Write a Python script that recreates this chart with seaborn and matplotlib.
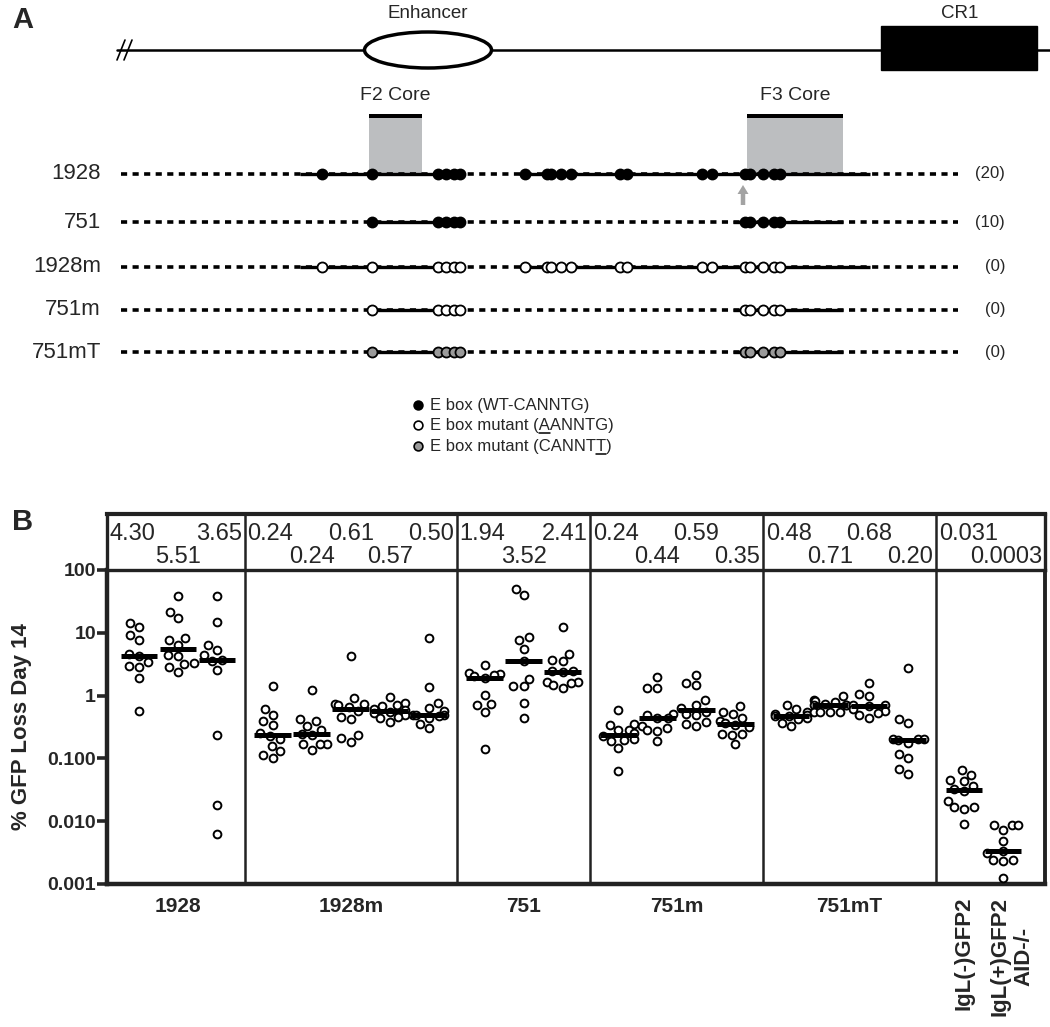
import matplotlib
matplotlib.use('Agg')
import matplotlib.pyplot as plt
import matplotlib.transforms as mtransforms
from matplotlib.patches import Ellipse, Rectangle, FancyArrow
from matplotlib.ticker import NullLocator
import seaborn as sns
import numpy as np
import pandas as pd

# ---------------- panel A: schematic ----------------
row_names = ['1928', '751', '1928m', '751m', '751mT']
row_counts = ['(20)', '(10)', '(0)', '(0)', '(0)']
# E box locations along the locus
ebox_1928 = [322, 372, 437.5, 446, 454, 459.5, 525, 547, 550.5, 560.5, 571,
             620, 627, 702, 712, 745, 750, 763, 774, 780]
ebox_751 = [372, 437.5, 446, 454, 459.5, 745, 750, 763, 774, 780]
# stretches of genomic sequence kept in each construct
solid_1928 = [(300, 462), (520, 870)]
solid_751 = [(368, 462), (733, 843)]
legend_labels = ['E box (WT-CANNTG)', 'E box mutant (AANNTG)', 'E box mutant (CANNTT)']

# ---------------- panel B: % GFP loss at day 14 ----------------
group_names = ['1928', '1928m', '751', '751m', '751mT']
group_sizes = [3, 5, 3, 4, 4, 2]
control_labels = ['IgL(-)GFP2', 'IgL(+)GFP2\nAID-/-']

c01 = [14.4, 12.2, 9.2, 7.8, 4.6, 4.30, 3.4, 2.95, 2.85, 1.9, 0.57]
c02 = [38.5, 21.6, 17.4, 8.3, 7.6, 6.5, 4.5, 4.3, 3.3, 3.2, 2.85, 2.4]
c03 = [38.9, 15.0, 6.4, 5.3, 4.4, 3.65, 3.55, 2.6, 0.235, 0.018, 0.0062]
c04 = [1.41, 0.62, 0.50, 0.39, 0.34, 0.25, 0.23, 0.20, 0.16, 0.13, 0.114, 0.101]
c05 = [1.22, 0.43, 0.39, 0.33, 0.28, 0.245, 0.24, 0.171, 0.170, 0.167, 0.137]
c06 = [4.3, 0.90, 0.745, 0.73, 0.70, 0.66, 0.56, 0.457, 0.43, 0.233, 0.211, 0.182]
c07 = [0.95, 0.77, 0.70, 0.685, 0.62, 0.59, 0.55, 0.535, 0.50, 0.457, 0.44, 0.38]
c08 = [8.4, 1.37, 0.76, 0.64, 0.57, 0.50, 0.50, 0.49, 0.48, 0.44, 0.35, 0.30]
c09 = [3.12, 2.33, 2.24, 2.16, 2.06, 1.94, 1.01, 0.73, 0.70, 0.55, 0.139]
c10 = [49.8, 39.9, 8.6, 7.6, 5.5, 3.52, 1.87, 1.41, 1.40, 0.77, 0.44]
c11 = [12.2, 4.68, 3.66, 3.60, 2.50, 2.45, 2.37, 1.65, 1.65, 1.61, 1.50, 1.33]
c12 = [0.60, 0.35, 0.336, 0.287, 0.28, 0.25, 0.23, 0.201, 0.199, 0.189, 0.148, 0.063]
c13 = [1.99, 1.34, 1.33, 0.504, 0.485, 0.44, 0.44, 0.328, 0.305, 0.28, 0.27, 0.187]
c14 = [2.16, 1.59, 1.50, 0.843, 0.70, 0.636, 0.548, 0.504, 0.485, 0.38, 0.349, 0.328]
c15 = [0.676, 0.548, 0.516, 0.44, 0.394, 0.36, 0.34, 0.316, 0.248, 0.245, 0.233, 0.167]
c16 = [0.718, 0.62, 0.548, 0.516, 0.50, 0.48, 0.474, 0.44, 0.42, 0.371, 0.324]
c17 = [0.99, 0.843, 0.81, 0.78, 0.745, 0.72, 0.70, 0.70, 0.548, 0.548, 0.548, 0.548]
c18 = [1.59, 1.08, 0.99, 0.70, 0.70, 0.68, 0.605, 0.562, 0.535, 0.485, 0.44]
c19 = [2.80, 0.43, 0.371, 0.205, 0.20, 0.20, 0.195, 0.176, 0.119, 0.103, 0.0667, 0.0569]
c20 = [0.066, 0.055, 0.0445, 0.043, 0.0357, 0.032, 0.030, 0.0211, 0.0169, 0.0169, 0.0159, 0.0089]
c21 = [0.0088, 0.0088, 0.0087, 0.0073, 0.0048, 0.0033, 0.0031, 0.0024, 0.0024, 0.0023, 0.00123]
columns = [c01, c02, c03, c04, c05, c06, c07, c08, c09, c10, c11,
           c12, c13, c14, c15, c16, c17, c18, c19, c20, c21]

header_labels = [['4.30', '5.51', '3.65'],
                 ['0.24', '0.24', '0.61', '0.57', '0.50'],
                 ['1.94', '3.52', '2.41'],
                 ['0.24', '0.44', '0.59', '0.35'],
                 ['0.48', '0.71', '0.68', '0.20'],
                 ['0.031', '0.0003']]

ytick_vals = [0.001, 0.01, 0.1, 1, 10, 100]
ytick_labels = ['0.001', '0.010', '0.100', '1', '10', '100']

# ---------------- style ----------------
sns.set_style('white')
plt.rcParams['font.family'] = ['Liberation Sans', 'DejaVu Sans']
box_col = '#222222'

W, H = 1050, 1027
fig = plt.figure(figsize=(W / 100, H / 100), dpi=100)

# ================= panel A =================
axA = fig.add_axes([0, 1 - 513 / H, 1, 513 / H])
axA.set_xlim(0, W)
axA.set_ylim(513, 0)
axA.axis('off')

# locus line, enhancer and CR1
axA.plot([117, W], [50, 50], color='black', lw=1.8, zorder=1)
axA.plot([117, 125], [60, 40], color='black', lw=1.2)
axA.plot([124, 132], [60, 40], color='black', lw=1.2)
axA.add_patch(Ellipse((428, 50), 127, 36, fc='white', ec='black', lw=2.5, zorder=2))
axA.add_patch(Rectangle((881, 26), 156, 44, fc='black', ec='black', zorder=2))
axA.text(428, 13, 'Enhancer', ha='center', va='center', fontsize=13.5)
axA.text(960, 13, 'CR1', ha='center', va='center', fontsize=13.5)

# F2 / F3 core boxes
for x0, x1, lab in [(369, 422, 'F2 Core'), (747, 843, 'F3 Core')]:
    axA.add_patch(Rectangle((x0, 117), x1 - x0, 56, fc='#bcbec0', ec='none', zorder=0))
    axA.add_patch(Rectangle((x0, 113.5), x1 - x0, 4.5, fc='black', ec='none', zorder=1))
    axA.text((x0 + x1) / 2, 95, lab, ha='center', va='center', fontsize=14)

row_y = [173.5, 222, 267, 309.5, 352]
row_boxes = [ebox_1928, ebox_751, ebox_1928, ebox_751, ebox_751]
row_solid = [solid_1928, solid_751, solid_1928, solid_751, solid_751]
row_fill = ['black', 'black', 'white', 'white', '#9a9a9a']
for name, cnt, y, boxes, solid, fc in zip(row_names, row_counts, row_y,
                                           row_boxes, row_solid, row_fill):
    axA.plot([121, 958], [y, y], color='black', lw=2.6,
             linestyle=(0, (1.7, 1.5)), zorder=1)
    for s0, s1 in solid:
        axA.plot([s0, s1], [y, y], color='black', lw=2.4, solid_capstyle='butt', zorder=2)
    axA.scatter(boxes, [y] * len(boxes), s=52, facecolor=fc, edgecolor='black',
                linewidth=1.3, zorder=3)
    axA.text(101, y, name, ha='right', va='center', fontsize=16)
    axA.text(1005, y, cnt, ha='right', va='center', fontsize=12)

axA.add_patch(FancyArrow(743, 205, 0, -20, width=4.5, head_width=11, head_length=9,
                         length_includes_head=True, color='#a3a3a3', ec='none', zorder=3))

# legend
leg_y = [405, 425, 446]
leg_fill = ['black', 'white', '#9a9a9a']
for lab, y, fc in zip(legend_labels, leg_y, leg_fill):
    axA.scatter([418], [y], s=40, facecolor=fc, edgecolor='black', linewidth=1.2, zorder=3)
    axA.text(430, y + 5, lab, ha='left', va='baseline', fontsize=12)

fig.canvas.draw()
renderer = fig.canvas.get_renderer()


def text_width(s, size):
    t = axA.text(0, 0, s, fontsize=size)
    w = t.get_window_extent(renderer).width
    t.remove()
    return w


# underline the mutated base
for (prefix, base), y in [(('E box mutant (', 'A'), leg_y[1]),
                          (('E box mutant (CANNT', 'T'), leg_y[2])]:
    x0 = 430 + text_width(prefix, 12)
    x1 = x0 + text_width(base, 12)
    axA.plot([x0, x1], [y + 7.5, y + 7.5], color='black', lw=1.1)

# ================= panel B =================
rows = []
positions = []
idx = 0
for g, n in enumerate(group_sizes):
    for k in range(n):
        pos = idx + 0.43 * g
        positions.append(pos)
        for v in columns[idx]:
            rows.append({'pos': pos, 'val': v})
        idx += 1
df = pd.DataFrame(rows)

ax = fig.add_axes([107 / W, 1 - 884 / H, 938 / W, 314 / H])
axh = fig.add_axes([107 / W, 1 - 570 / H, 938 / W, 56 / H])
ax.set_yscale('log')
sns.swarmplot(data=df, x='pos', y='val', native_scale=True, color='white',
              edgecolor='black', linewidth=1.4, size=5.6, ax=ax, zorder=3,
              warn_thresh=1)
med = df.groupby('pos')['val'].median()
ax.hlines(med.values, med.index - 0.47, med.index + 0.47, color='black', lw=3.6, zorder=4)

xlim = (-0.82, 23.23)
ax.set_xlim(*xlim)
ax.set_ylim(0.001, 100)
axh.set_xlim(*xlim)
axh.set_ylim(0, 1)

# group dividers
starts = np.cumsum([0] + group_sizes)
bounds = [(positions[starts[g] - 1] + positions[starts[g]]) / 2 for g in range(1, len(group_sizes))]
for b in bounds:
    ax.axvline(b, color=box_col, lw=1.8, zorder=2)
    axh.axvline(b, color=box_col, lw=1.8)

# header numbers (medians): first flush left, last flush right, others centred
edges = [xlim[0]] + bounds + [xlim[1]]
pad = 0.07
for g, labs in enumerate(header_labels):
    n = len(labs)
    for k, lab in enumerate(labs):
        y = 0.64 if k % 2 == 0 else 0.24
        if k == 0:
            x, ha = edges[g] + pad, 'left'
        elif k == n - 1:
            x, ha = edges[g + 1] - pad, 'right'
        else:
            x, ha = positions[starts[g] + k], 'center'
        axh.text(x, y, lab, ha=ha, va='center', fontsize=17)
axh.set_xticks([])
axh.set_yticks([])
for sp in axh.spines.values():
    sp.set_linewidth(2.4)
    sp.set_color(box_col)
axh.spines['top'].set_linewidth(3)

# axes styling
ax.set_yticks(ytick_vals, ytick_labels)
ax.yaxis.set_minor_locator(NullLocator())
ax.tick_params(axis='y', length=7, width=2.6, pad=1, labelsize=14, left=True)
for lab in ax.get_yticklabels():
    lab.set_fontweight('bold')

centers = [np.mean(positions[starts[g]:starts[g + 1]]) for g in range(len(group_names))]
tick_pos = centers + positions[-2:]
ax.set_xticks(tick_pos, group_names + control_labels)
ax.tick_params(axis='x', length=0, pad=9, labelsize=15)
shift = mtransforms.ScaledTranslation(9 / 100, 0, fig.dpi_scale_trans)
for i, lab in enumerate(ax.get_xticklabels()):
    lab.set_fontweight('bold')
    if i >= len(group_names):
        lab.set_rotation(90)
        lab.set_fontsize(16)
        lab.set_multialignment('center')
        lab.set_va('top')
    if i == len(group_names) + 1:
        lab.set_transform(lab.get_transform() + shift)

ax.set_xlabel('')
ax.set_ylabel('% GFP Loss Day 14', fontsize=16, fontweight='bold', labelpad=11)
for side, lw in [('left', 3.2), ('bottom', 3.2), ('right', 2.8), ('top', 2.6)]:
    ax.spines[side].set_linewidth(lw)
    ax.spines[side].set_color(box_col)
ax.grid(False)

fig.text(12 / W, 1 - 20 / H, 'A', fontsize=21, fontweight='bold', va='center')
fig.text(12 / W, 1 - 522 / H, 'B', fontsize=21, fontweight='bold', va='center')

fig.savefig('out.png', dpi=100)
